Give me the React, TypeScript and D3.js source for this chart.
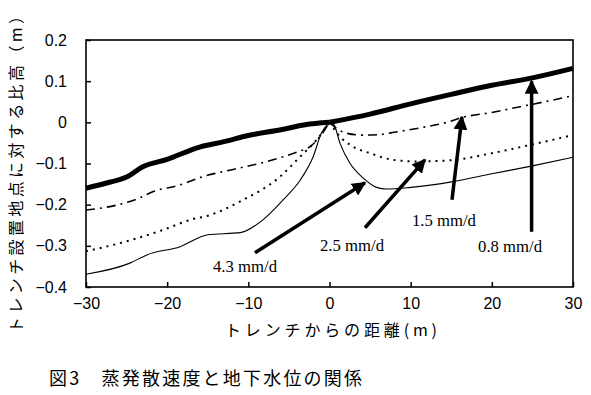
import React, { useEffect, useRef } from "react";
import * as d3 from "d3";

// water table profiles, [distance from trench (m), relative height (m)]
const rate08: [number, number][] = [
  [-30, -0.16], [-27, -0.145], [-25, -0.133], [-23, -0.108], [-20, -0.09],
  [-16, -0.06], [-13, -0.047], [-10, -0.032], [-6, -0.018], [-3, -0.006], [0, 0],
  [5, 0.02], [10, 0.045], [15, 0.068], [20, 0.09], [25, 0.108], [30, 0.131],
];
const rate15: [number, number][] = [
  [-30, -0.213], [-26, -0.2], [-23.7, -0.186], [-21.7, -0.168], [-18.4, -0.152],
  [-15.6, -0.132], [-12, -0.115], [-7.7, -0.095], [-4, -0.072], [-2.4, -0.059],
  [-1, -0.03], [0, 0],
  [0.7, -0.012], [2, -0.026], [4, -0.031], [6, -0.03], [8, -0.024], [11, -0.014],
  [14.8, 0.002], [16, 0.01], [20, 0.024], [23.5, 0.038], [27, 0.052], [30, 0.065],
];
const rate25: [number, number][] = [
  [-30, -0.313], [-26.7, -0.298], [-20.9, -0.264], [-16.8, -0.235], [-15, -0.227],
  [-11, -0.192], [-6.1, -0.132], [-3.6, -0.083], [-1.6, -0.043], [0, 0],
  [1.3, -0.035], [2.9, -0.059], [5, -0.075], [7.8, -0.091], [11, -0.095],
  [15, -0.092], [20, -0.075], [24.7, -0.055], [30, -0.031],
];
const rate43: [number, number][] = [
  [-30, -0.369], [-24.6, -0.342], [-22.5, -0.322], [-18.4, -0.302], [-15, -0.273],
  [-11, -0.268], [-8.6, -0.243], [-5.7, -0.188], [-3.6, -0.14], [-2, -0.083],
  [-1, -0.026], [0, 0],
  [0.5, -0.004], [1.3, -0.051], [2.5, -0.099], [4.2, -0.136], [5.8, -0.158],
  [7, -0.162], [10, -0.158], [15.2, -0.144], [20, -0.125], [24.7, -0.107], [30, -0.085],
];

// annotation labels and arrows (data coords): text position, arrow tail, arrow tip
const labels = ["4.3 mm/d", "2.5 mm/d", "1.5 mm/d", "0.8 mm/d"];
const labelPos: [number, number][] = [[-14.35, -0.363], [-1.17, -0.312], [10.16, -0.251], [18.3, -0.315]];
const arrowFrom: [number, number][] = [[-9.18, -0.317], [4.37, -0.256], [15.09, -0.188], [24.9, -0.266]];
const arrowTo: [number, number][] = [[4.37, -0.147], [11.77, -0.091], [16.32, 0.013], [24.9, 0.1]];

const xTicks = [-30, -20, -10, 0, 10, 20, 30];
const yTicks = [0.2, 0.1, 0, -0.1, -0.2, -0.3, -0.4];

const App = () => {
  const svgRef = useRef<SVGSVGElement>(null);

  useEffect(() => {
    const svg = d3.select(svgRef.current);
    svg.selectAll("*").remove();

    const margin = { top: 40, right: 18, bottom: 108, left: 86 };
    const width = 591;
    const height = 395;

    const x = d3.scaleLinear().domain([-30, 30]).range([margin.left, width - margin.right]);
    const y = d3.scaleLinear().domain([-0.4, 0.2]).range([height - margin.bottom, margin.top]);

    const sans = "'Liberation Sans', Arial, sans-serif";
    const cjk = "'Noto Sans CJK JP', sans-serif";
    const serif = "'Liberation Serif', 'Times New Roman', serif";

    // axes with inward ticks
    const xAxis = svg
      .append("g")
      .attr("transform", `translate(0, ${y(-0.4)})`)
      .call(d3.axisBottom(x).tickValues(xTicks).tickSizeInner(-5).tickSizeOuter(0).tickPadding(11).tickFormat(d3.format("d")));
    const yAxis = svg
      .append("g")
      .attr("transform", `translate(${x(-30)}, 0)`)
      .call(d3.axisLeft(y).tickValues(yTicks).tickSizeInner(-5).tickSizeOuter(0).tickPadding(19).tickFormat((d) => (d === 0 ? "0" : d3.format(".1f")(d as number))));
    [xAxis, yAxis].forEach((g) => {
      g.select(".domain").remove();
      g.selectAll("line").attr("stroke", "#000").attr("stroke-width", 1.5);
      g.selectAll("text").attr("fill", "#000").style("font-family", sans).style("font-size", "16px");
    });

    // plot frame
    svg
      .append("rect")
      .attr("x", x(-30))
      .attr("y", y(0.2))
      .attr("width", x(30) - x(-30))
      .attr("height", y(-0.4) - y(0.2))
      .attr("fill", "none")
      .attr("stroke", "#000")
      .attr("stroke-width", 1.6);

    const line = d3
      .line<[number, number]>()
      .x((d) => x(d[0]))
      .y((d) => y(d[1]))
      .curve(d3.curveMonotoneX);

    const series = [
      { data: rate43, width: 1.1, dash: null },
      { data: rate25, width: 2, dash: "2,5" },
      { data: rate15, width: 1.6, dash: "9,5,2,5" },
      { data: rate08, width: 5, dash: null },
    ];
    series.forEach((s) => {
      // draw each side of the trench separately to keep the cusp at 0
      const left = s.data.filter((d) => d[0] <= 0);
      const right = s.data.filter((d) => d[0] >= 0);
      [left, right].forEach((part) => {
        svg
          .append("path")
          .attr("d", line(part))
          .attr("fill", "none")
          .attr("stroke", "#000")
          .attr("stroke-width", s.width)
          .attr("stroke-dasharray", s.dash)
          .attr("stroke-linejoin", "round");
      });
    });

    // arrows
    svg
      .append("defs")
      .append("marker")
      .attr("id", "head")
      .attr("viewBox", "0 0 10 10")
      .attr("refX", 9)
      .attr("refY", 5)
      .attr("markerWidth", 4)
      .attr("markerHeight", 4)
      .attr("markerUnits", "strokeWidth")
      .attr("orient", "auto")
      .append("path")
      .attr("d", "M0,0 L10,5 L0,10 Z")
      .attr("fill", "#000");

    arrowFrom.forEach((from, i) => {
      svg
        .append("line")
        .attr("x1", x(from[0]))
        .attr("y1", y(from[1]))
        .attr("x2", x(arrowTo[i][0]))
        .attr("y2", y(arrowTo[i][1]))
        .attr("stroke", "#000")
        .attr("stroke-width", 3.5)
        .attr("marker-end", "url(#head)");
    });

    labels.forEach((t, i) => {
      svg
        .append("text")
        .attr("x", x(labelPos[i][0]))
        .attr("y", y(labelPos[i][1]))
        .attr("textLength", 64)
        .attr("lengthAdjust", "spacingAndGlyphs")
        .style("font-family", serif)
        .style("font-size", "16px")
        .text(t);
    });

    // titles
    svg
      .append("text")
      .attr("x", 225)
      .attr("y", 336)
      .attr("textLength", 212)
      .attr("lengthAdjust", "spacing")
      .style("font-family", cjk)
      .style("font-size", "16px")
      .text("トレンチからの距離(m)");

    svg
      .append("text")
      .attr("transform", "translate(22, 170.5) rotate(-90)")
      .attr("text-anchor", "middle")
      .attr("textLength", 325)
      .attr("lengthAdjust", "spacing")
      .style("font-family", cjk)
      .style("font-size", "16px")
      .text("トレンチ設置地点に対する比高（m）");

    svg
      .append("text")
      .attr("x", 49)
      .attr("y", 385)
      .attr("textLength", 313)
      .attr("lengthAdjust", "spacing")
      .style("font-family", cjk)
      .style("font-size", "18px")
      .text("図3　蒸発散速度と地下水位の関係");
  }, []);

  return (
    <div style={{ position: "absolute", left: 0, top: 0, width: 591, height: 395, background: "#fff" }}>
      <svg ref={svgRef} width={591} height={395}></svg>
    </div>
  );
};

export default App;
